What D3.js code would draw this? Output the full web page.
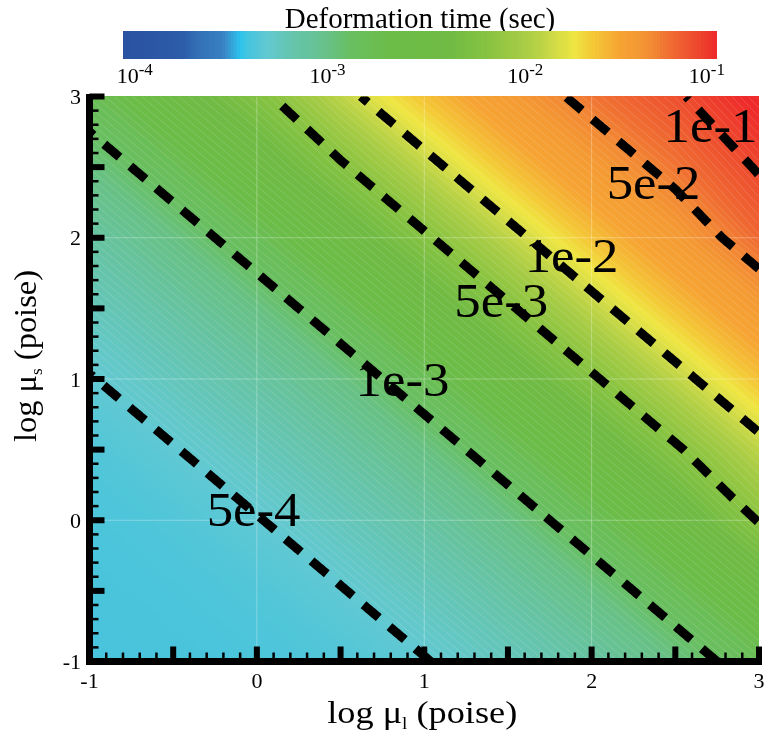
<!DOCTYPE html>
<html>
<head>
<meta charset="utf-8">
<script src="https://cdn.jsdelivr.net/npm/d3@7"></script>
<style>
  body { margin: 0; background: #ffffff; }
  #wrap { position: relative; width: 765px; height: 738px; overflow: hidden; }
  #wrap canvas, #wrap svg { position: absolute; left: 0; top: 0; }
  text { font-family: "Liberation Serif", "Times New Roman", serif; fill: #000; }
</style>
</head>
<body>
<div id="wrap">
  <canvas id="field" width="765" height="738"></canvas>
  <svg id="chart" width="765" height="738"></svg>
</div>
<script>
// ---- data -------------------------------------------------------------
// grid of log10(liquid viscosity) and log10(solid viscosity), poise
const logMuL = [-1, -0.5, 0, 0.5, 1, 1.5, 2, 2.5, 3];
const logMuS = [-1, -0.5, 0, 0.5, 1, 1.5, 2, 2.5, 3];

// log10 of deformation time (sec); one row per logMuS value, columns follow logMuL
const logTime = [
  [-3.370, -3.366, -3.360, -3.345, -3.307, -3.230, -3.150, -3.080, -2.920],
  [-3.366, -3.360, -3.345, -3.307, -3.230, -3.150, -3.080, -2.920, -2.620],
  [-3.360, -3.345, -3.307, -3.230, -3.150, -3.080, -2.920, -2.620, -2.290],
  [-3.345, -3.307, -3.230, -3.150, -3.080, -2.920, -2.620, -2.325, -2.080],
  [-3.307, -3.230, -3.150, -3.080, -2.920, -2.620, -2.325, -2.080, -1.750],
  [-3.230, -3.150, -3.080, -2.920, -2.620, -2.325, -2.080, -1.750, -1.480],
  [-3.150, -3.080, -2.920, -2.620, -2.325, -2.080, -1.750, -1.480, -1.160],
  [-3.080, -2.920, -2.620, -2.325, -2.080, -1.750, -1.480, -1.220, -0.980],
  [-2.920, -2.620, -2.350, -2.080, -1.750, -1.480, -1.220, -1.030, -0.800]
];

// dashed iso-lines of deformation time and where their labels sit
const contourLevels = [5e-4, 1e-3, 5e-3, 1e-2, 5e-2, 1e-1];
const contourLabels = ["5e-4", "1e-3", "5e-3", "1e-2", "5e-2", "1e-1"];
const labelMuL = [-0.02, 0.87, 1.46, 1.88, 2.37, 2.71];
const labelMuS = [0.07, 0.99, 1.55, 1.87, 2.39, 2.79];

// flood colour map: log10(time) -> colour
const colorStopValues = [-4.00, -3.75, -3.60, -3.45, -3.37, -3.30, -3.15, -3.00, -2.80, -2.50,
                         -2.30, -2.15, -2.00, -1.90, -1.78, -1.62, -1.45, -1.30, -1.15, -1.00, -0.85];
const colorStopColors = ["#2a52a0", "#2d5ca8", "#3a8ac8", "#2cc4ee", "#48c4dc", "#62c9d2",
                         "#66c3a2", "#69bf62", "#6cbc48", "#70bb44", "#88c341", "#a8cc45",
                         "#d4dc46", "#efe642", "#f4c836", "#f6a433", "#f49a33", "#f28634",
                         "#ef6531", "#ee4a2e", "#ee2b2a"];

// flood levels shown in the legend, one equal-width slot each
const legendLevels = [-4.000, -3.898, -3.795, -3.689, -3.636, -3.391, -3.282, -3.169, -3.107,
                      -3.021, -2.903, -2.784, -2.665, -2.538, -2.401, -2.274, -2.175, -2.074,
                      -1.941, -1.784, -1.637, -1.409, -1.209, -1.035, -0.850];
const colorbarExponents = [-4, -3, -2, -1];

const axisTicks = [-1, 0, 1, 2, 3];

// ---- scales -----------------------------------------------------------
const x = d3.scaleLinear().domain([-1, 3]).range([89.5, 759]);
const y = d3.scaleLinear().domain([-1, 3]).range([661.5, 96.5]);
const color = d3.scaleLinear().domain(colorStopValues).range(colorStopColors)
  .interpolate(d3.interpolateRgb).clamp(true);
const cb = d3.scaleLinear().domain([-4, -1]).range([122.7, 716]);
const legendSlot = d3.scaleLinear().domain([0, legendLevels.length - 1]).range(cb.range());

// linear interpolation on the triangles of each cell (split along the anti-diagonal)
function fieldAt(u, v) {
  const n = logMuL.length, m = logMuS.length;
  let fx = (u - logMuL[0]) / (logMuL[1] - logMuL[0]);
  let fy = (v - logMuS[0]) / (logMuS[1] - logMuS[0]);
  fx = Math.max(0, Math.min(n - 1, fx));
  fy = Math.max(0, Math.min(m - 1, fy));
  const i = Math.min(Math.floor(fx), n - 2), j = Math.min(Math.floor(fy), m - 2);
  const tx = fx - i, ty = fy - j;
  const a = logTime[j][i], b = logTime[j][i + 1], c = logTime[j + 1][i], d = logTime[j + 1][i + 1];
  if (tx + ty <= 1) return a + tx * (b - a) + ty * (c - a);
  return d + (1 - tx) * (c - d) + (1 - ty) * (b - d);
}

// ---- flooded field on canvas -------------------------------------------
(function drawField() {
  const ctx = document.getElementById("field").getContext("2d");
  const x0 = Math.floor(x(-1)), x1 = Math.ceil(x(3));
  const y0 = Math.floor(y(3)), y1 = Math.ceil(y(-1));
  const w = x1 - x0, h = y1 - y0;
  const img = ctx.createImageData(w, h);
  for (let py = 0; py < h; py++) {
    const v = Math.max(-1, Math.min(3, y.invert(y0 + py + 0.5)));
    for (let px = 0; px < w; px++) {
      const u = Math.max(-1, Math.min(3, x.invert(x0 + px + 0.5)));
      const c = d3.rgb(color(fieldAt(u, v)));
      const k = (py * w + px) * 4;
      img.data[k] = c.r; img.data[k + 1] = c.g; img.data[k + 2] = c.b; img.data[k + 3] = 255;
    }
  }
  ctx.putImageData(img, x0, y0);
})();

// ---- svg overlay ------------------------------------------------------
const svg = d3.select("#chart");

svg.append("clipPath").attr("id", "plotClip")
  .append("rect")
  .attr("x", x(-1)).attr("y", y(3))
  .attr("width", x(3) - x(-1)).attr("height", y(-1) - y(3));

const plot = svg.append("g").attr("clip-path", "url(#plotClip)");

// iso-line tracer: the field rises with logMuL, so each row is crossed once
function isoLine(level) {
  const pts = [];
  const us = d3.range(-1, 3.0001, 0.004);
  for (const v of d3.range(-1, 3.0001, 0.01)) {
    let prevU = us[0], prevF = fieldAt(prevU, v);
    if (prevF > level) continue;
    for (let k = 1; k < us.length; k++) {
      const f = fieldAt(us[k], v);
      if (f > level) {
        const t = (level - prevF) / (f - prevF);
        pts.push([prevU + t * (us[k] - prevU), v]);
        break;
      }
      prevU = us[k]; prevF = f;
    }
  }
  return pts;
}

const line = d3.line().x(d => x(d[0])).y(d => y(d[1]));

// faint level lines across the flood
const diagStep = 6 / Math.hypot(x(1) - x(0), y(0) - y(1));
const faintLevels = d3.range(0.06, 3, diagStep).map(t => fieldAt(t, t));
plot.append("g")
  .selectAll("path")
  .data(faintLevels)
  .join("path")
  .attr("d", lv => line(isoLine(lv)))
  .attr("fill", "none")
  .attr("stroke", "#ffffff")
  .attr("stroke-opacity", 0.22)
  .attr("stroke-width", 0.7);

// light grid at the labelled ticks
plot.append("g")
  .selectAll("line")
  .data(axisTicks.slice(1, -1))
  .join("line")
  .attr("x1", d => x(d)).attr("x2", d => x(d))
  .attr("y1", y(3)).attr("y2", y(-1))
  .attr("stroke", "#ffffff").attr("stroke-opacity", 0.3).attr("stroke-width", 1);
plot.append("g")
  .selectAll("line")
  .data(axisTicks.slice(1, -1))
  .join("line")
  .attr("y1", d => y(d)).attr("y2", d => y(d))
  .attr("x1", x(-1)).attr("x2", x(3))
  .attr("stroke", "#ffffff").attr("stroke-opacity", 0.3).attr("stroke-width", 1);

// contour labels
plot.append("g")
  .selectAll("text")
  .data(contourLabels)
  .join("text")
  .attr("transform", (d, i) => `translate(${x(labelMuL[i])},${y(labelMuS[i])}) scale(1.1,1)`)
  .attr("text-anchor", "middle")
  .attr("dy", "0.33em")
  .style("font-size", "48px")
  .text(d => d);

// dashed iso-lines
plot.append("g")
  .selectAll("path")
  .data(contourLevels)
  .join("path")
  .attr("d", lv => line(isoLine(Math.log10(lv))))
  .attr("fill", "none")
  .attr("stroke", "#000")
  .attr("stroke-width", 9)
  .attr("stroke-dasharray", "20,14");

// ---- axes -------------------------------------------------------------
const axes = svg.append("g");
axes.append("line")
  .attr("x1", x(-1)).attr("x2", x(-1))
  .attr("y1", y(3) - 2.5).attr("y2", y(-1) + 3.5)
  .attr("stroke", "#000").attr("stroke-width", 7);
axes.append("line")
  .attr("x1", x(-1) - 3.5).attr("x2", x(3) + 3)
  .attr("y1", y(-1)).attr("y2", y(-1))
  .attr("stroke", "#000").attr("stroke-width", 7);

const majors = d3.range(-1, 3.0001, 0.5);
const minors = d3.range(-1, 3.0001, 0.1).filter(v => Math.abs(v * 2 - Math.round(v * 2)) > 1e-6);

axes.append("g").selectAll("rect").data(majors).join("rect")
  .attr("x", x(-1)).attr("y", d => y(d) - 3).attr("width", 15).attr("height", 6).attr("fill", "#000");
axes.append("g").selectAll("rect").data(minors).join("rect")
  .attr("x", x(-1)).attr("y", d => y(d) - 1.25).attr("width", 9).attr("height", 2.5).attr("fill", "#000");
axes.append("g").selectAll("rect").data(majors).join("rect")
  .attr("x", d => x(d) - 3).attr("y", y(-1) - 15).attr("width", 6).attr("height", 15).attr("fill", "#000");
axes.append("g").selectAll("rect").data(minors).join("rect")
  .attr("x", d => x(d) - 1.25).attr("y", y(-1) - 9).attr("width", 2.5).attr("height", 9).attr("fill", "#000");

// tick labels
axes.append("g").selectAll("text").data(axisTicks).join("text")
  .attr("x", 81).attr("y", d => y(d) + 7.5)
  .attr("text-anchor", "end")
  .style("font-size", "22px")
  .text(d => d);
axes.append("g").selectAll("text").data(axisTicks).join("text")
  .attr("x", d => x(d)).attr("y", 688)
  .attr("text-anchor", "middle")
  .style("font-size", "22px")
  .text(d => d);

// axis titles: "log μ" with a subscript, stretched to the drawn length
function axisTitle(g, sub, targetLength) {
  const t = g.append("text").attr("text-anchor", "middle").style("font-size", "32px");
  t.append("tspan").text("log \u03bc");
  t.append("tspan").attr("dy", 6).style("font-size", "17px").text(sub);
  t.append("tspan").attr("dy", -6).text(" (poise)");
  const len = t.node().getComputedTextLength();
  t.attr("transform", `scale(${targetLength / len},1)`);
}
axisTitle(svg.append("g").attr("transform", `translate(${(x(-1) + x(3)) / 2 - 2},723)`), "l", 190);
axisTitle(svg.append("g").attr("transform", "translate(36,356) rotate(-90)"), "s", 172);

// ---- colour legend ------------------------------------------------------
const legend = svg.append("g");
legend.append("text")
  .attr("x", 420).attr("y", 28)
  .attr("text-anchor", "middle")
  .style("font-size", "29px")
  .text("Deformation time (sec)");

// each legend slot blends from one flood level to the next
const bandsPerSlot = 8;
const bands = d3.range((legendLevels.length - 1) * bandsPerSlot).map(k => {
  const s0 = k / bandsPerSlot, s1 = (k + 1) / bandsPerSlot;
  const i = Math.floor(s0), t = (s0 + s1) / 2 - i;
  return { x0: legendSlot(s0), x1: legendSlot(s1),
           value: legendLevels[i] + t * (legendLevels[i + 1] - legendLevels[i]) };
});
legend.append("g").selectAll("rect").data(bands).join("rect")
  .attr("x", d => d.x0)
  .attr("width", d => d.x1 - d.x0 + 0.6)
  .attr("y", 31).attr("height", 28)
  .attr("fill", d => color(d.value))
  .attr("shape-rendering", "crispEdges");

const cbLabels = legend.append("g").selectAll("text").data(colorbarExponents).join("text")
  .attr("x", (d, i) => i === 0 ? cb(d) - 6 : i === colorbarExponents.length - 1 ? cb(d) + 9 : cb(d) + 7)
  .attr("y", 83)
  .attr("text-anchor", (d, i) => i === 0 ? "start" : i === colorbarExponents.length - 1 ? "end" : "middle")
  .style("font-size", "22px");
cbLabels.append("tspan").text("10");
cbLabels.append("tspan").attr("dy", -8).style("font-size", "17px").text(d => d);
</script>
</body>
</html>
